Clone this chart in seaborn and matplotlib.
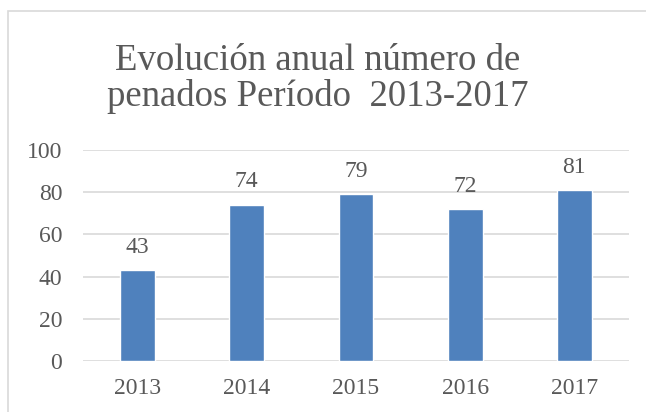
import pandas as pd
import matplotlib
matplotlib.use("Agg")
import matplotlib.pyplot as plt
import seaborn as sns
from matplotlib.patches import Rectangle

# Data
years = ['2013', '2014', '2015', '2016', '2017']
penados = [43, 74, 79, 72, 81]
y_ticks = [0, 20, 40, 60, 80, 100]

df = pd.DataFrame({'Año': years, 'Penados': penados})

sns.set_theme(style='white')
plt.rcParams['font.family'] = ['Liberation Serif', 'DejaVu Serif']

text_color = '#595959'
grid_color = '#D9D9D9'
bar_color = '#4F81BD'

fig = plt.figure(figsize=(6.46, 4.12), dpi=100)
ax = fig.add_axes([83 / 646, 1 - 361 / 412, 546 / 646, 211 / 412])

sns.barplot(data=df, x='Año', y='Penados', color=bar_color, width=0.32,
            saturation=1, ax=ax, zorder=3)

ax.set_ylim(0, 100)
ax.set_yticks(y_ticks)
ax.yaxis.grid(True, color=grid_color, linewidth=1.2, zorder=0)
ax.set_axisbelow(True)
for s in ax.spines.values():
    s.set_visible(False)
ax.set_xlabel('')
ax.set_ylabel('')
ax.tick_params(axis='both', length=0, labelsize=17, colors=text_color)
ax.tick_params(axis='y', pad=15)
ax.tick_params(axis='x', pad=12)

for container in ax.containers:
    ax.bar_label(container, fontsize=17, color=text_color, padding=9)

# title, baseline of the last line anchored
fig.text(0.492, 1 - 106 / 412, 'Evolución anual número de\npenados Período  2013-2017',
         ha='center', va='baseline', fontsize=26.5, color=text_color,
         linespacing=1.04)

# outer chart border
fig.patches.append(Rectangle((7.5 / 646, -0.1), 2, (412 - 11.5) / 412 + 0.1,
                             transform=fig.transFigure, fill=False,
                             edgecolor=grid_color, linewidth=1.2))

plt.savefig('out.png', dpi=100)
plt.close()
